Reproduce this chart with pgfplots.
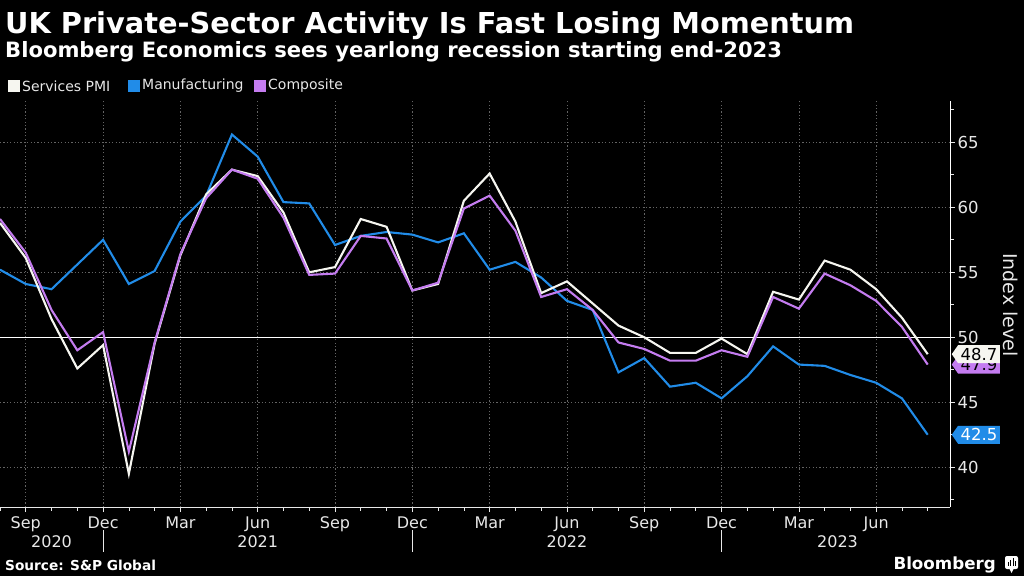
\documentclass[border=0pt]{standalone}
\usepackage{fontspec}
\setmainfont{DejaVu Sans}
\usepackage{pgfplots}
\pgfplotsset{compat=1.18}
\usepackage{pgfplotstable}
\usetikzlibrary{shapes.symbols}

\definecolor{bbblue}{RGB}{33,140,232}
\definecolor{bbpurple}{RGB}{196,124,240}
\definecolor{bbwhite}{RGB}{246,246,240}
\definecolor{gridgray}{RGB}{100,100,100}
\definecolor{ticktext}{RGB}{232,232,232}

\newcommand{\fs}[1]{\fontsize{#1}{#1}\selectfont}

% monthly PMI, index 0 = Sep 2020
\pgfplotstableread{
idx svc  mfg  comp
-1  58.8 55.2 59.1
0   56.1 54.1 56.5
1   51.4 53.7 52.1
2   47.6 55.6 49.0
3   49.4 57.5 50.4
4   39.5 54.1 41.2
5   49.5 55.1 49.6
6   56.3 58.9 56.4
7   61.0 60.9 60.7
8   62.9 65.6 62.9
9   62.4 63.9 62.2
10  59.6 60.4 59.2
11  55.0 60.3 54.8
12  55.4 57.1 54.9
13  59.1 57.8 57.8
14  58.5 58.1 57.6
15  53.6 57.9 53.6
16  54.1 57.3 54.2
17  60.5 58.0 59.9
18  62.6 55.2 60.9
19  58.9 55.8 58.2
20  53.4 54.6 53.1
21  54.3 52.8 53.7
22  52.6 52.1 52.1
23  50.9 47.3 49.6
24  50.0 48.4 49.1
25  48.8 46.2 48.2
26  48.8 46.5 48.2
27  49.9 45.3 49.0
28  48.7 47.0 48.5
29  53.5 49.3 53.1
30  52.9 47.9 52.2
31  55.9 47.8 54.9
32  55.2 47.1 54.0
33  53.7 46.5 52.8
34  51.5 45.3 50.8
35  48.7 42.5 47.9
}\pmi

\tikzset{
  yearlab/.style={anchor=base, text=ticktext, font=\fs{16}, inner sep=0},
  lastval/.style={signal, signal to=west, signal pointer angle=110, anchor=west,
    inner xsep=2.5pt, inner ysep=0pt, minimum height=18pt, font=\fs{16.5}},
}

\begin{document}
\begin{tikzpicture}
\useasboundingbox (0,0) rectangle (1024pt,-576pt);
\fill[black] (0,0) rectangle (1024pt,-576pt);

% titles
\node[anchor=base west, inner sep=0, text=white, font=\bfseries\fs{28.8}] at (5pt,-33pt)
  {UK Private-Sector Activity Is Fast Losing Momentum};
\node[anchor=base west, inner sep=0, text=white, font=\bfseries\fs{21.1}] at (5pt,-57pt)
  {Bloomberg Economics sees yearlong recession starting end-2023};

% legend
\fill[bbwhite] (8pt,-80pt) rectangle (20pt,-92pt);
\node[anchor=west, inner sep=0, text=ticktext, font=\fs{14}] at (22pt,-86pt) {Services PMI};
\fill[bbblue] (128pt,-80pt) rectangle (140pt,-92pt);
\node[anchor=west, inner sep=0, text=ticktext, font=\fs{14}] at (142pt,-86pt) {Manufacturing};
\fill[bbpurple] (254pt,-80pt) rectangle (266pt,-92pt);
\node[anchor=west, inner sep=0, text=ticktext, font=\fs{14}] at (268pt,-86pt) {Composite};

\begin{axis}[
  at={(0pt,-507pt)}, anchor=south west,
  scale only axis, width=950pt, height=406pt,
  xmin=-1, xmax=35.865, ymin=36.94, ymax=68.18,
  axis x line=bottom, axis y line=right,
  x axis line style={-, draw=ticktext, line width=0.8pt},
  y axis line style={-, draw=white, line width=0.8pt},
  tick align=outside,
  major tick length=5pt, minor tick length=3.5pt,
  xtick={0,3,...,33},
  xticklabels={Sep,Dec,Mar,Jun,Sep,Dec,Mar,Jun,Sep,Dec,Mar,Jun},
  minor xtick={-1,0,...,35},
  ytick={40,45,...,65},
  minor ytick={37.5,42.5,...,67.5},
  tick style={draw=ticktext, line width=0.7pt},
  xticklabel style={text=ticktext, font=\fs{16}, yshift=-1pt},
  yticklabel style={text=ticktext, font=\fs{16.5}, anchor=west, xshift=-1pt},
  /pgf/number format/assume math mode=true,
  grid=major,
  major grid style={draw=gridgray, line width=0.7pt, dash pattern=on 1.2pt off 2.2pt},
  clip=false,
]
\draw[white, line width=0.9pt] (axis cs:-1,50) -- (axis cs:35.865,50);

\addplot[bbblue, line width=2.1pt] table[x=idx, y=mfg] {\pmi};
\addplot[bbwhite, line width=2.1pt] table[x=idx, y=svc] {\pmi};
\addplot[bbpurple, line width=2.1pt] table[x=idx, y=comp] {\pmi};

% year row
\node[yearlab] at ([yshift=-40pt]axis cs:1,36.94) {2020};
\node[yearlab] at ([yshift=-40pt]axis cs:9,36.94) {2021};
\node[yearlab] at ([yshift=-40pt]axis cs:21,36.94) {2022};
\node[yearlab] at ([yshift=-40pt]axis cs:31.5,36.94) {2023};
\draw[ticktext, line width=0.7pt] ([yshift=-23pt]axis cs:3,36.94) -- ([yshift=-45pt]axis cs:3,36.94);
\draw[ticktext, line width=0.7pt] ([yshift=-23pt]axis cs:15,36.94) -- ([yshift=-45pt]axis cs:15,36.94);
\draw[ticktext, line width=0.7pt] ([yshift=-23pt]axis cs:27,36.94) -- ([yshift=-45pt]axis cs:27,36.94);

% last-value labels
\node[lastval, fill=bbpurple, text=black] at ([xshift=1.5pt]axis cs:35.865,47.9) {47.9};
\node[lastval, fill=bbwhite, text=black] at ([xshift=1.5pt]axis cs:35.865,48.7) {48.7};
\node[lastval, fill=bbblue, text=white] at ([xshift=1.5pt]axis cs:35.865,42.5) {42.5};
\end{axis}

\node[rotate=-90, text=ticktext, font=\fs{19}, inner sep=0] at (1011pt,-305pt) {Index level};

% footer
\node[anchor=base west, inner sep=0, text=white, font=\bfseries\fs{13.7}] at (5pt,-570pt)
  {Source: S\&P Global};
\node[anchor=base east, inner sep=0, text=white, font=\bfseries\fs{16.7}] at (996pt,-569pt)
  {Bloomberg};
\fill[white, rounded corners=2pt] (1005pt,-556pt) rectangle (1018pt,-569pt);
\fill[white] (1009pt,-568pt) -- (1011.5pt,-573pt) -- (1014pt,-568pt) -- cycle;
\fill[black] (1007.5pt,-566pt) rectangle ++(1.4pt,4pt);
\fill[black] (1010pt,-566pt) rectangle ++(1.4pt,6pt);
\fill[black] (1012.5pt,-566pt) rectangle ++(1.4pt,8pt);
\fill[black] (1015pt,-566pt) rectangle ++(1.4pt,5pt);
\end{tikzpicture}
\end{document}
